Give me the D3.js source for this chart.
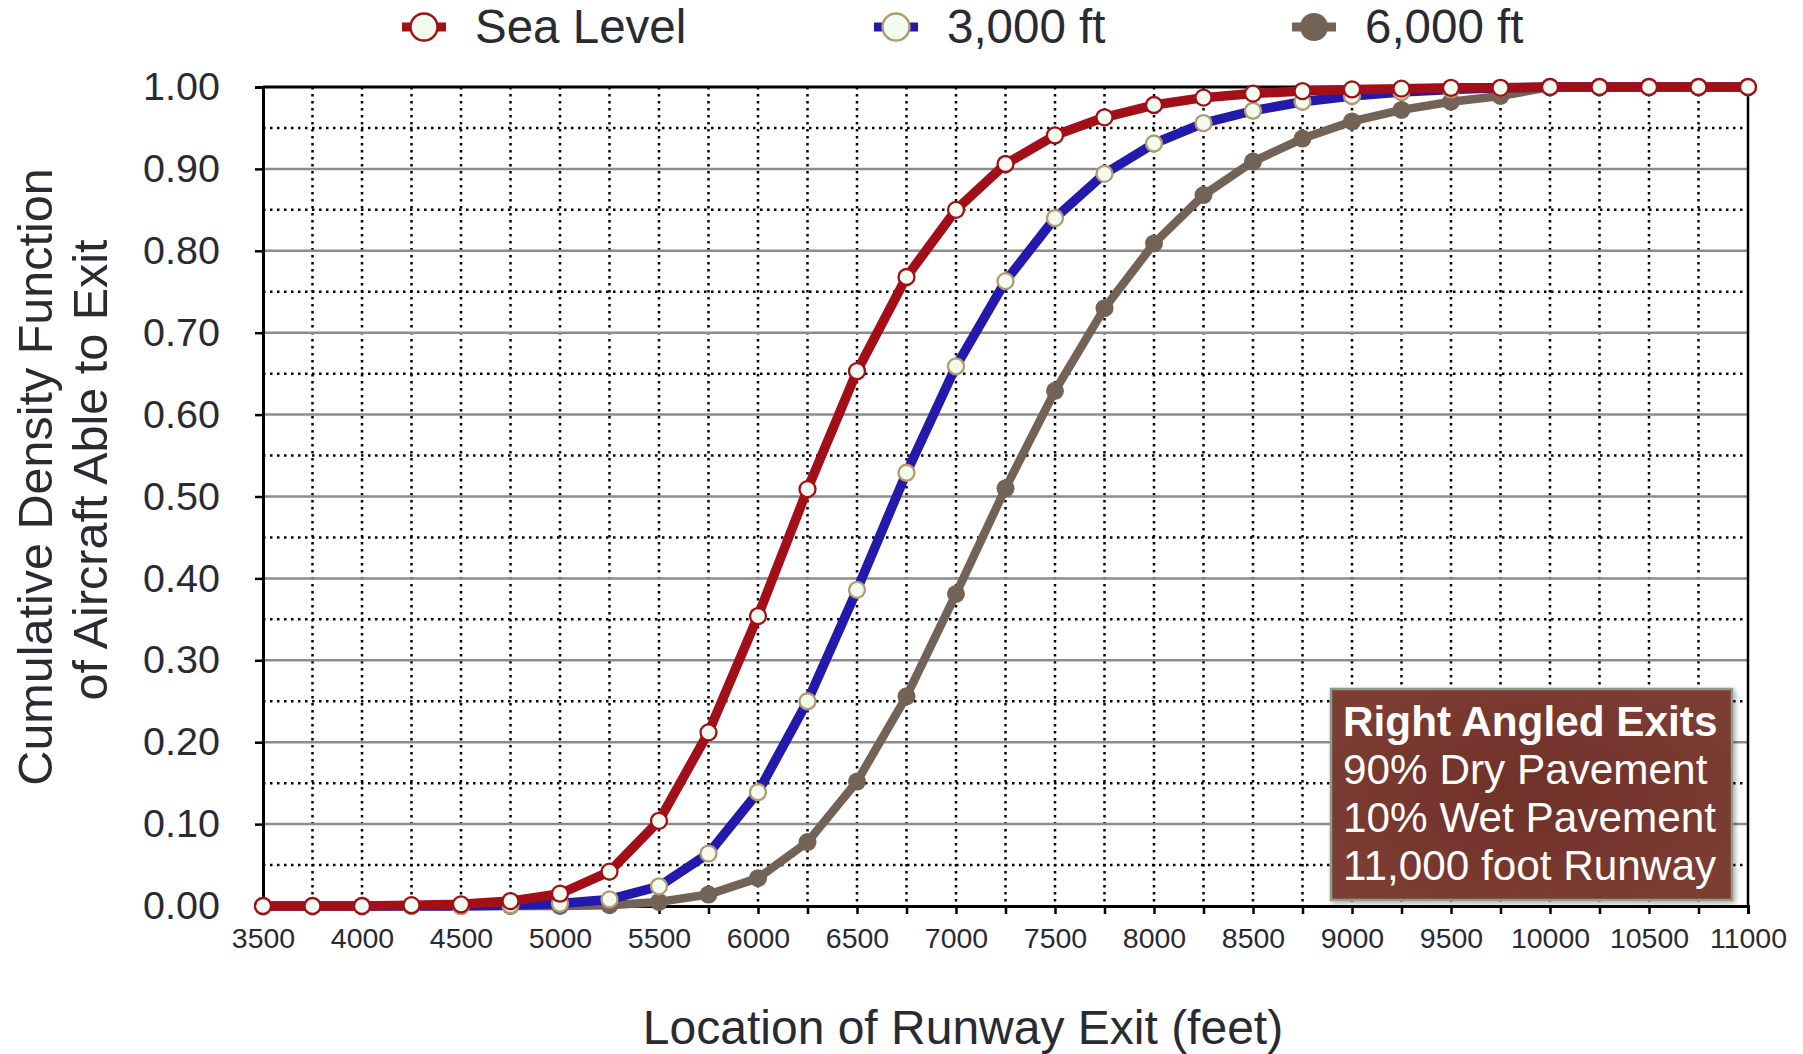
<!DOCTYPE html>
<html>
<head>
<meta charset="utf-8">
<script src="https://cdn.jsdelivr.net/npm/d3@7"></script>
<style>
  html, body { margin: 0; padding: 0; background: #ffffff; }
  svg { display: block; font-family: "Liberation Sans", Arial, Helvetica, sans-serif; }
</style>
</head>
<body>
<svg id="chart" width="1803" height="1054"></svg>
<script>
// Runway exit locations (feet)
const exitLocations = [3500, 3750, 4000, 4250, 4500, 4750, 5000, 5250, 5500, 5750,
  6000, 6250, 6500, 6750, 7000, 7250, 7500, 7750, 8000, 8250,
  8500, 8750, 9000, 9250, 9500, 9750, 10000, 10250, 10500, 10750, 11000];

// Cumulative share of aircraft able to exit, by airport elevation
const seaLevel = [0, 0, 0, 0.001, 0.002, 0.006, 0.015, 0.042, 0.104, 0.212,
  0.354, 0.509, 0.653, 0.768, 0.850, 0.906, 0.941, 0.963, 0.978, 0.987,
  0.992, 0.995, 0.997, 0.998, 0.999, 0.999, 1, 1, 1, 1, 1];
const ft3000 = [0, 0, 0, 0, 0, 0.001, 0.003, 0.008, 0.024, 0.064,
  0.139, 0.250, 0.386, 0.529, 0.659, 0.763, 0.840, 0.894, 0.931, 0.956,
  0.971, 0.982, 0.989, 0.994, 0.997, 0.999, 1, 1, 1, 1, 1];
const ft6000 = [0, 0, 0, 0, 0, 0, 0, 0.001, 0.005, 0.014,
  0.034, 0.078, 0.152, 0.256, 0.381, 0.510, 0.629, 0.730, 0.809, 0.868,
  0.909, 0.937, 0.958, 0.972, 0.982, 0.989, 1, 1, 1, 1, 1];

const seriesNames = ["Sea Level", "3,000 ft", "6,000 ft"];

// Axis ticks
const yTicks = [0, 0.1, 0.2, 0.3, 0.4, 0.5, 0.6, 0.7, 0.8, 0.9, 1.0];
const yMinorTicks = [0.05, 0.15, 0.25, 0.35, 0.45, 0.55, 0.65, 0.75, 0.85, 0.95];
const xTicks = exitLocations;
const xLabelTicks = [3500, 4000, 4500, 5000, 5500, 6000, 6500, 7000, 7500, 8000,
  8500, 9000, 9500, 10000, 10500, 11000];

const noteLines = ["Right Angled Exits", "90% Dry Pavement", "10% Wet Pavement", "11,000 foot Runway"];

const textColor = "#2a2a33";
const styles = {
  "Sea Level": { line: "#a30f18", width: 9.5, r: 8, fill: "#f2fbef", stroke: "#a30f18", sw: 2.3 },
  "3,000 ft":  { line: "#2319aa", width: 9.5, r: 8, fill: "#f2fbef", stroke: "#b39a70", sw: 2.3 },
  "6,000 ft":  { line: "#736357", width: 8.5, r: 9, fill: "#736357", stroke: "#736357", sw: 0 }
};

const svg = d3.select("#chart");
const plot = { left: 263, right: 1748, top: 87, bottom: 906 };

const x = d3.scaleLinear().domain([3500, 11000]).range([plot.left, plot.right]);
const y = d3.scaleLinear().domain([0, 1]).range([plot.bottom, plot.top]);

const defs = svg.append("defs");
const shadow = defs.append("filter").attr("id", "noteShadow")
  .attr("x", "-10%").attr("y", "-10%").attr("width", "125%").attr("height", "125%");
shadow.append("feDropShadow").attr("dx", 2).attr("dy", 2).attr("stdDeviation", 2.5)
  .attr("flood-color", "#000").attr("flood-opacity", 0.35);
const grad = defs.append("radialGradient").attr("id", "noteFill")
  .attr("cx", "50%").attr("cy", "50%").attr("r", "75%");
grad.append("stop").attr("offset", "0%").attr("stop-color", "#70302a");
grad.append("stop").attr("offset", "100%").attr("stop-color", "#7f4034");

// Grid: dotted minor rows and every 250 ft columns, solid grey major rows
const grid = svg.append("g");
grid.selectAll("line.vminor").data(xTicks.filter(v => v > 3500 && v < 11000)).join("line")
  .attr("x1", d => x(d)).attr("x2", d => x(d))
  .attr("y1", plot.top).attr("y2", plot.bottom)
  .attr("stroke", "#000").attr("stroke-width", 2.5).attr("stroke-dasharray", "2.5 4.5");
grid.selectAll("line.hminor").data(yMinorTicks).join("line")
  .attr("x1", plot.left).attr("x2", plot.right)
  .attr("y1", d => y(d)).attr("y2", d => y(d))
  .attr("stroke", "#000").attr("stroke-width", 2.5).attr("stroke-dasharray", "2.5 4.5");
grid.selectAll("line.hmajor").data(yTicks.filter(v => v > 0 && v < 1)).join("line")
  .attr("x1", plot.left).attr("x2", plot.right)
  .attr("y1", d => y(d)).attr("y2", d => y(d))
  .attr("stroke", "#8c8c8c").attr("stroke-width", 2.5);

// Frame top and right
svg.append("line").attr("x1", plot.left).attr("x2", plot.right)
  .attr("y1", plot.top).attr("y2", plot.top).attr("stroke", "#000").attr("stroke-width", 3);
svg.append("line").attr("x1", plot.right).attr("x2", plot.right)
  .attr("y1", plot.top).attr("y2", plot.bottom).attr("stroke", "#000").attr("stroke-width", 2.5);

// Axes
const yAxis = svg.append("g").attr("transform", `translate(${plot.left},0)`)
  .call(d3.axisLeft(y).tickValues(yTicks).tickFormat(d3.format(".2f")).tickSize(8).tickPadding(35));
const xAxis = svg.append("g").attr("transform", `translate(0,${plot.bottom})`)
  .call(d3.axisBottom(x).tickValues(xTicks)
    .tickFormat(d => xLabelTicks.includes(d) ? String(d) : "")
    .tickSize(8).tickPadding(14));
[yAxis, xAxis].forEach(ax => {
  ax.select(".domain").attr("stroke", "#000").attr("stroke-width", 3);
  ax.selectAll(".tick line").attr("stroke", "#000").attr("stroke-width", 2.5);
  ax.selectAll(".tick text").attr("fill", textColor).style("font-family", "Liberation Sans, Arial, sans-serif");
});
yAxis.selectAll(".tick text").style("font-size", "39.5px");
xAxis.selectAll(".tick text").style("font-size", "28.5px");

// Series lines and markers
const seriesData = [
  { name: "6,000 ft", values: ft6000 },
  { name: "3,000 ft", values: ft3000 },
  { name: "Sea Level", values: seaLevel }
];
const line = d3.line().x(d => x(d[0])).y(d => y(d[1]));
seriesData.forEach(s => {
  const st = styles[s.name];
  const pts = exitLocations.map((loc, i) => [loc, s.values[i]]);
  const g = svg.append("g");
  g.append("path").datum(pts).attr("d", line)
    .attr("fill", "none").attr("stroke", st.line).attr("stroke-width", st.width)
    .attr("stroke-linejoin", "round");
  g.selectAll("circle").data(pts).join("circle")
    .attr("cx", d => x(d[0])).attr("cy", d => y(d[1])).attr("r", st.r)
    .attr("fill", st.fill).attr("stroke", st.stroke).attr("stroke-width", st.sw);
});

// Legend
const legendX = [424, 896, 1314];
const legend = svg.append("g");
seriesNames.forEach((name, i) => {
  const st = styles[name];
  const cx = legendX[i], cy = 27;
  legend.append("line").attr("x1", cx - 22).attr("x2", cx + 22).attr("y1", cy).attr("y2", cy)
    .attr("stroke", st.line).attr("stroke-width", 9);
  legend.append("circle").attr("cx", cx).attr("cy", cy).attr("r", name === "6,000 ft" ? 14 : 13.5)
    .attr("fill", st.fill).attr("stroke", st.stroke).attr("stroke-width", st.sw ? 2.4 : 0);
  legend.append("text").attr("x", cx + 51).attr("y", 43)
    .attr("fill", textColor).style("font-size", "47.5px").text(name);
});

// Axis titles
svg.append("text").attr("x", 963).attr("y", 1044).attr("text-anchor", "middle")
  .attr("fill", textColor).style("font-size", "48px").text("Location of Runway Exit (feet)");
svg.append("text").attr("transform", "translate(52,477) rotate(-90)").attr("text-anchor", "middle")
  .attr("fill", textColor).style("font-size", "48.5px").text("Cumulative Density Function");
svg.append("text").attr("transform", "translate(107,470) rotate(-90)").attr("text-anchor", "middle")
  .attr("fill", textColor).style("font-size", "48.5px").text("of Aircraft Able to Exit");

// Conditions note
const note = svg.append("g");
note.append("rect").attr("x", 1331).attr("y", 689).attr("width", 401).attr("height", 211)
  .attr("fill", "url(#noteFill)").attr("stroke", "#8d9c8c").attr("stroke-width", 2.5)
  .attr("filter", "url(#noteShadow)");
noteLines.forEach((t, i) => {
  note.append("text").attr("x", 1343).attr("y", 736 + i * 48)
    .attr("fill", "#ffffff").style("font-size", "42.3px")
    .style("font-weight", i === 0 ? "bold" : "normal").text(t);
});
</script>
</body>
</html>
